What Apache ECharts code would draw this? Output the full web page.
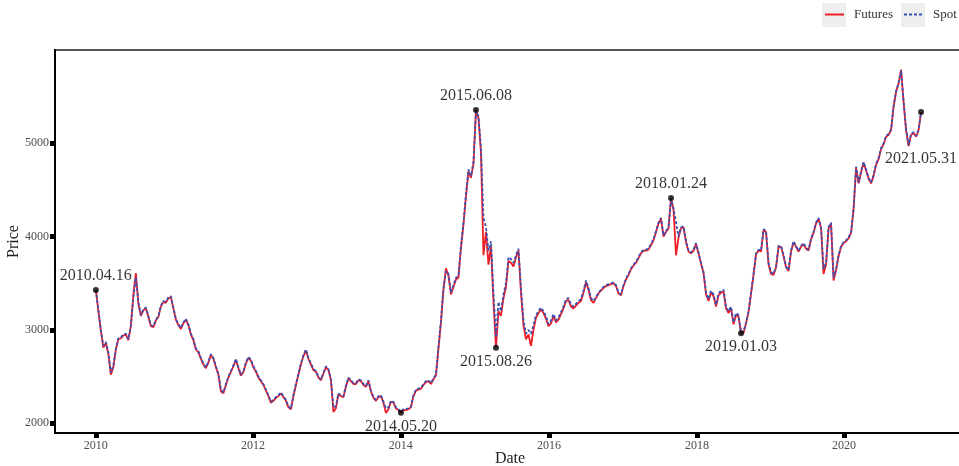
<!DOCTYPE html>
<html>
<head>
<meta charset="utf-8">
<script src="https://cdn.jsdelivr.net/npm/echarts@6/dist/echarts.min.js"></script>
<style>
  html, body { margin: 0; padding: 0; background: #fff; }
  #house-chart { width: 959px; height: 466px; }
</style>
</head>
<body>
<div id="house-chart"></div>
<script>
// trading days between two samples
var DAY_STEP = 8.2;
// x ticks (trading day index) and their labels
var yearTicks = [0, 515, 1000, 1486, 1971, 2453];
var yearLabels = ['2010', '2012', '2014', '2016', '2018', '2020'];
var priceTicks = [2000, 3000, 4000, 5000];

var spot = [
    3428, 3220, 3000, 2830, 2870, 2760, 2540, 2620, 2800, 2910,
    2920, 2950, 2960, 2900, 3050, 3350, 3560, 3300, 3160, 3220,
    3240, 3150, 3050, 3040, 3110, 3150, 3260, 3310, 3300, 3350,
    3360, 3240, 3120, 3060, 3020, 3080, 3120, 3060, 2960, 2900,
    2800, 2770, 2700, 2640, 2600, 2660, 2740, 2700, 2610, 2530,
    2360, 2330, 2420, 2500, 2560, 2620, 2690, 2600, 2520, 2560,
    2650, 2710, 2680, 2610, 2560, 2500, 2460, 2420, 2360, 2300,
    2230, 2250, 2280, 2300, 2330, 2290, 2250, 2180, 2160, 2300,
    2420, 2530, 2640, 2730, 2790, 2700, 2640, 2580, 2560, 2500,
    2470, 2540, 2610, 2580, 2470, 2170, 2180, 2320, 2300, 2290,
    2400, 2490, 2460, 2430, 2430, 2470, 2460, 2420, 2400, 2460,
    2350, 2280, 2250, 2290, 2300, 2230, 2160, 2170, 2240, 2230,
    2170, 2150, 2120, 2150, 2150, 2160, 2180, 2300, 2360, 2370,
    2380, 2420, 2450, 2460, 2430, 2480, 2520, 2820, 3100, 3450,
    3630, 3600, 3400, 3480, 3560, 3580, 3900, 4150, 4450, 4720,
    4650, 4800, 5340, 5290, 4950, 4200, 4100, 3850, 3950, 3400,
    2920, 3300, 3200, 3380, 3500, 3780, 3760, 3720, 3800, 3870,
    3450, 3100, 2960, 3000, 2960, 3050, 3160, 3200, 3240, 3200,
    3150, 3060, 3100, 3170, 3100, 3130, 3190, 3250, 3330, 3340,
    3270, 3250, 3280, 3310, 3330, 3420, 3530, 3450, 3340, 3310,
    3350, 3400, 3430, 3460, 3480, 3490, 3500, 3510, 3480, 3400,
    3380, 3480, 3550, 3600, 3660, 3700, 3730, 3780, 3830, 3860,
    3860, 3870, 3920, 3970, 4060, 4150, 4200, 4010, 4060, 4100,
    4400, 4300, 4150, 4000, 4100, 4110, 3950, 3850, 3830, 3860,
    3930, 3830, 3720, 3620, 3400, 3330, 3420, 3380, 3270, 3390,
    3420, 3430, 3250, 3200, 3250, 3080, 3180, 3160, 2975, 2980,
    3080, 3200, 3400, 3600, 3820, 3860, 3850, 4080, 4060, 3720,
    3620, 3600, 3680, 3900, 3900, 3800, 3680, 3640, 3850, 3950,
    3900, 3850, 3900, 3930, 3880, 3860, 3980, 4050, 4150, 4200,
    4100, 3650, 3720, 4100, 4150, 3560, 3650, 3800, 3900, 3940,
    3960, 3990, 4050, 4300, 4750, 4580, 4700, 4800, 4720, 4630,
    4580, 4660, 4780, 4840, 4950, 5000, 5080, 5100, 5150, 5400,
    5560, 5650, 5780, 5450, 5150, 4980, 5100, 5120, 5080, 5150,
    5335
];

var futures = [
    3428, 3200, 2990, 2810, 2860, 2740, 2520, 2600, 2790, 2900,
    2910, 2940, 2950, 2890, 3040, 3380, 3610, 3280, 3150, 3210,
    3230, 3140, 3040, 3030, 3100, 3140, 3250, 3300, 3290, 3340,
    3350, 3230, 3110, 3050, 3010, 3070, 3110, 3050, 2950, 2890,
    2790, 2760, 2690, 2630, 2590, 2650, 2730, 2690, 2600, 2520,
    2340, 2320, 2410, 2490, 2550, 2610, 2680, 2590, 2510, 2550,
    2640, 2700, 2670, 2600, 2550, 2490, 2450, 2410, 2350, 2290,
    2220, 2240, 2270, 2290, 2320, 2280, 2240, 2170, 2150, 2290,
    2410, 2520, 2630, 2720, 2780, 2690, 2630, 2570, 2550, 2490,
    2460, 2530, 2600, 2570, 2460, 2120, 2160, 2310, 2290, 2280,
    2390, 2480, 2450, 2420, 2420, 2460, 2450, 2410, 2390, 2450,
    2340, 2270, 2240, 2280, 2290, 2220, 2110, 2150, 2230, 2220,
    2160, 2140, 2111, 2140, 2140, 2150, 2170, 2290, 2350, 2360,
    2370, 2410, 2440, 2450, 2420, 2470, 2510, 2800, 3080, 3430,
    3660, 3580, 3380, 3460, 3540, 3560, 3880, 4130, 4430, 4700,
    4630, 4780, 5356, 5270, 4900, 3800, 4050, 3700, 3900, 3300,
    2808, 3200, 3150, 3340, 3460, 3740, 3720, 3680, 3780, 3850,
    3400, 3050, 2900, 2950, 2830, 3000, 3130, 3180, 3220, 3180,
    3120, 3040, 3070, 3150, 3080, 3110, 3170, 3230, 3310, 3320,
    3250, 3230, 3260, 3290, 3310, 3400, 3510, 3430, 3320, 3290,
    3340, 3390, 3420, 3450, 3470, 3480, 3490, 3500, 3470, 3390,
    3370, 3470, 3540, 3590, 3650, 3690, 3720, 3770, 3820, 3850,
    3850, 3860, 3910, 3960, 4050, 4140, 4190, 4000, 4050, 4090,
    4414, 4290, 3800, 3990, 4090, 4100, 3940, 3840, 3820, 3850,
    3920, 3820, 3710, 3610, 3380, 3310, 3400, 3360, 3250, 3370,
    3400, 3410, 3230, 3180, 3230, 3060, 3160, 3140, 2964, 2970,
    3070, 3190, 3390, 3590, 3810, 3850, 3840, 4070, 4050, 3700,
    3600, 3590, 3670, 3890, 3890, 3790, 3670, 3630, 3840, 3940,
    3890, 3840, 3890, 3920, 3870, 3850, 3970, 4040, 4140, 4190,
    4090, 3600, 3700, 4090, 4140, 3530, 3640, 3790, 3890, 3930,
    3950, 3980, 4040, 4290, 4740, 4570, 4690, 4790, 4710, 4620,
    4570, 4650, 4770, 4830, 4940, 4990, 5070, 5090, 5140, 5390,
    5550, 5640, 5790, 5440, 5140, 4970, 5090, 5110, 5070, 5140,
    5335
];

// 标注的关键日期
var annoIdx = [0, 122, 152, 160, 230, 258, 330];
var annoText = ['2010.04.16', '2014.05.20', '2015.06.08', '2015.08.26', '2018.01.24', '2019.01.03', '2021.05.31'];
var annoPos = ['top', 'bottom', 'top', 'bottom', 'top', 'bottom', 'bottom'];

var myChart = echarts.init(document.getElementById('house-chart'));

function toPairs(values) {
    let out = [];
    for (let i = 0; i < values.length; i++) {
        out.push([i * DAY_STEP, values[i]]);
    }
    return out;
}

let annoData = [];
for (let i = 0; i < annoIdx.length; i++) {
    let k = annoIdx[i];
    annoData.push({
        value: [k * DAY_STEP, futures[k]],
        name: annoText[i],
        label: {
            position: annoPos[i],
            distance: i == annoIdx.length - 1 ? 36 : 3
        }
    });
}

var serif = 'Liberation Serif';

var option = {
    animation: false,
    backgroundColor: '#fff',
    grid: {
        left: 55, top: 50, right: -6, bottom: 33,
        containLabel: false, outerBoundsMode: 'none',
        show: true, borderColor: '#555', borderWidth: 2
    },
    graphic: [
        { type: 'rect', shape: { x: 822, y: 3, width: 24, height: 24 }, style: { fill: '#eeeeee' }, z: -1 },
        { type: 'rect', shape: { x: 901, y: 3, width: 24, height: 24 }, style: { fill: '#eeeeee' }, z: -1 }
    ],
    legend: {
        data: ['Futures', 'Spot'],
        orient: 'horizontal',
        left: 824, top: 8, padding: 0, width: 200,
        itemWidth: 19, itemHeight: 14, itemGap: 10,
        itemStyle: { opacity: 0 },
        textStyle: { fontFamily: serif, fontSize: 13, color: '#333', padding: [0, 0, 0, 5] }
    },
    xAxis: {
        type: 'value',
        min: -134, max: 2850,
        name: 'Date', nameLocation: 'middle', nameGap: 18, nameMoveOverlap: false,
        nameTextStyle: { fontFamily: serif, fontSize: 16, color: '#222' },
        axisLine: { show: true, onZero: false, lineStyle: { color: '#000', width: 2 } },
        axisTick: { show: true, customValues: yearTicks, length: 5, lineStyle: { color: '#000', width: 5 } },
        axisLabel: {
            customValues: yearTicks, margin: 7,
            fontFamily: serif, fontSize: 12, color: '#4d4d4d',
            formatter: function (v) {
                let k = yearTicks.indexOf(v);
                return k >= 0 ? yearLabels[k] : '';
            }
        },
        splitLine: { show: false }
    },
    yAxis: {
        type: 'value',
        min: 1895, max: 6000,
        name: 'Price', nameLocation: 'middle', nameGap: 33, nameMoveOverlap: false,
        nameTextStyle: { fontFamily: serif, fontSize: 16, color: '#222' },
        axisLine: { show: true, onZero: false, lineStyle: { color: '#000', width: 2 } },
        axisTick: { show: true, customValues: priceTicks, length: 5, lineStyle: { color: '#000', width: 5 } },
        axisLabel: {
            customValues: priceTicks, margin: 6,
            fontFamily: serif, fontSize: 12, color: '#4d4d4d',
            formatter: function (v) { return String(v); }
        },
        splitLine: { show: false }
    },
    series: [
        {
            name: 'Futures', type: 'line', data: toPairs(futures),
            showSymbol: false, symbol: 'none',
            lineStyle: { color: '#ee1c25', width: 1.8 },
            itemStyle: { color: '#ee1c25' }
        },
        {
            name: 'Spot', type: 'line', data: toPairs(spot),
            showSymbol: false, symbol: 'none',
            lineStyle: { color: '#3a50b4', width: 1.8, type: [3, 2] },
            itemStyle: { color: '#3a50b4' }
        },
        {
            type: 'scatter', data: annoData,
            symbolSize: 6, z: 5,
            itemStyle: { color: '#000' },
            label: {
                show: true,
                formatter: function (p) { return p.name; },
                fontFamily: serif, fontSize: 16, color: '#000'
            }
        }
    ]
};

myChart.setOption(option, true);
</script>
</body>
</html>
